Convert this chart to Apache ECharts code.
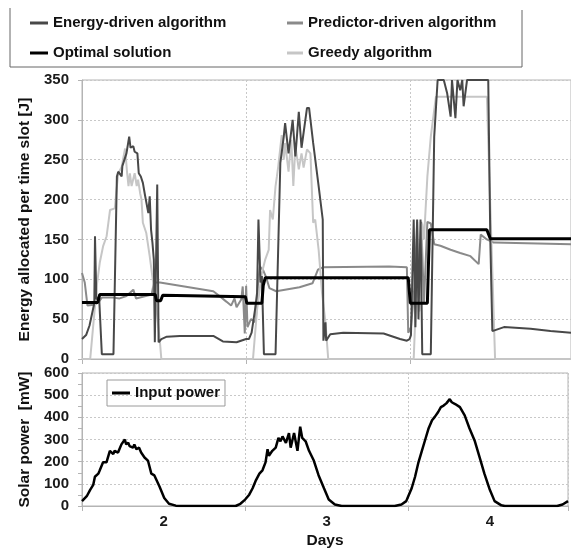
<!DOCTYPE html>
<html><head><meta charset="utf-8">
<script src="https://cdn.jsdelivr.net/npm/echarts@6/dist/echarts.min.js"></script>
<style>html,body{margin:0;padding:0;background:#fff}#c{width:571px;height:550px}</style>
</head><body><div id="c"></div>
<script>
// time in hours from the left edge of the plot (left edge = middle of day 1/2 boundary)
const dayTickLabels = { 12: '2', 36: '3', 60: '4' };
const energyDriven = [[0,25],[0.6,30],[1.1,42],[1.5,58],[1.8,70],[1.9,154],[2.1,75],[2.5,78],[2.9,6],[4.6,6],[5.1,229],[5.3,235],[5.5,237],[5.8,229],[5.9,242],[6.5,258],[6.9,279],[7.1,265],[7.5,267],[7.7,260],[8.1,258],[8.3,233],[8.6,229],[8.9,221],[9.2,206],[9.4,204],[9.7,183],[9.9,204],[10.1,162],[10.3,146],[10.5,125],[10.65,21],[10.9,21],[11.0,219],[11.2,21],[11.4,21],[11.6,25],[12.4,28],[14.3,29],[19.2,29],[20.6,22],[22.6,21],[24.0,25],[24.4,25],[24.8,33],[25.3,62],[25.6,83],[25.8,175],[26.1,96],[26.3,104],[26.6,6],[28.3,6],[29.0,246],[29.5,279],[29.7,296],[30.2,258],[30.8,300],[31.2,254],[31.7,310],[32.1,265],[32.9,315],[33.2,315],[33.8,271],[34.6,217],[35.2,175],[35.3,23],[35.6,46],[35.7,23],[36.3,31],[38.2,33],[44.1,32],[46.5,25],[47.5,23],[47.9,25],[48.1,30],[48.5,175],[48.75,40],[49.0,175],[49.2,50],[49.5,175],[49.75,6],[51.0,6],[51.5,279],[52.0,350],[52.9,350],[53.4,333],[53.9,304],[54.1,350],[54.6,302],[54.9,350],[55.3,337],[55.6,350],[55.8,317],[56.3,350],[59.4,350],[59.7,150],[60.0,35],[60.2,37],[61.7,40],[65.6,38],[68.5,35],[71.5,33]];
const predictorDriven = [[0,108],[0.4,96],[0.8,67],[1.75,68],[2.4,71],[2.9,77],[4.6,77],[5.5,76],[6.5,79],[7.5,87],[7.9,76],[8.9,78],[10.2,81],[10.5,96],[11.4,96],[14.3,92],[19.2,85],[20.1,79],[21.1,72],[21.8,67],[22.3,76],[22.6,65],[23.3,75],[23.5,91],[23.8,32],[24.0,92],[24.2,40],[24.7,50],[25.4,46],[25.7,91],[26.0,116],[26.45,112],[26.9,103],[27.4,89],[28.4,85],[31.8,90],[33.7,95],[34.5,112],[35.2,115],[44.9,116],[47.5,115],[47.7,33],[48.1,40],[48.6,90],[49.0,172],[49.3,60],[49.6,172],[50.0,70],[50.5,172],[51.0,170],[51.5,144],[52.4,142],[53.9,137],[55.3,133],[56.8,129],[58.0,119],[58.3,156],[59.2,150],[60.2,146],[71.5,144]];
const optimalSolution = [[0,71],[2.3,71],[2.6,81],[10.7,81],[10.9,73],[11.5,73],[11.8,80],[23.9,78],[24.1,70],[26.3,70],[26.5,92],[26.8,102],[47.7,102],[48.0,70],[50.5,70],[50.8,162],[59.2,162],[59.7,151],[71.5,151]];
const greedy = [[0,0],[1.2,0],[2.2,95],[2.6,121],[3.1,142],[3.6,154],[4.1,187],[4.8,189],[5.0,208],[5.3,233],[5.8,241],[6.3,264],[6.6,233],[6.8,217],[7.0,233],[7.25,217],[7.7,233],[8.0,217],[8.2,225],[8.5,208],[8.7,200],[8.9,171],[9.4,158],[9.9,129],[10.4,96],[10.9,62],[11.4,21],[11.6,0],[25.0,0],[25.6,62],[26.3,108],[26.8,125],[27.3,137],[27.5,187],[27.9,175],[28.3,217],[28.5,229],[28.7,242],[29.2,281],[29.5,250],[29.7,271],[30.2,235],[30.6,275],[30.9,217],[31.2,267],[31.7,238],[32.1,258],[32.4,240],[32.9,263],[33.4,258],[33.8,171],[34.1,175],[34.6,137],[35.1,83],[35.6,46],[36.0,0],[48.5,0],[49.0,110],[49.3,60],[49.75,170],[50.0,150],[50.5,229],[51.0,279],[51.75,329],[59.2,329],[60.4,0],[71.5,0]];
const inputPower = [[0,22],[0.7,44],[1.2,73],[1.65,95],[1.9,132],[2.4,146],[2.6,160],[3.1,197],[3.6,197],[4.1,249],[4.6,234],[4.8,249],[5.3,241],[5.5,256],[5.8,278],[6.0,285],[6.3,300],[6.5,278],[6.8,285],[7.0,270],[7.25,278],[7.5,263],[7.7,278],[8.0,256],[8.4,263],[8.7,241],[9.2,219],[9.7,205],[10.2,146],[10.65,138],[11.4,88],[12.1,36],[12.8,10],[13.8,1.5],[14.3,0],[22.6,0],[23.3,10],[24.0,29],[24.6,51],[25.1,80],[25.6,117],[26.1,146],[26.55,161],[27.0,197],[27.3,256],[27.5,227],[28.0,249],[28.5,263],[28.9,307],[29.2,292],[29.5,314],[30.0,285],[30.45,329],[30.7,263],[31.2,329],[31.7,249],[32.1,358],[32.4,307],[32.9,292],[33.4,249],[34.1,205],[34.8,139],[35.6,80],[36.3,29],[37.2,7],[38.2,0],[46.0,0],[47.0,7],[47.7,22],[48.0,44],[48.5,80],[49.0,132],[49.5,197],[50.0,249],[50.5,300],[51.0,351],[51.5,387],[51.9,402],[52.4,424],[52.8,446],[53.2,453],[53.6,463],[54.1,482],[54.4,468],[54.9,460],[55.6,446],[56.3,409],[57.0,351],[57.8,292],[58.5,219],[59.2,146],[60.0,73],[60.7,22],[61.7,3],[62.2,0],[69.9,0],[70.7,7],[71.5,22]];

const FONT = '"Liberation Sans", Arial, Helvetica, sans-serif';
const XMAX = 71.5;
const GRAY = '#b4b4b4';
const chart = echarts.init(document.getElementById('c'));
const splitDotted = { show: true, lineStyle: { color: '#c8c8c8', type: [2, 2], width: 1 } };
const baseX = (gi) => ({
  gridIndex: gi, type: 'value', position: 'bottom', min: 0, max: XMAX, interval: 24,
  axisLine: { show: true, lineStyle: { color: GRAY } },
  axisTick: { show: true, length: 5, lineStyle: { color: GRAY } },
  axisLabel: { show: false }, splitLine: splitDotted
});
const labelStyle = { fontFamily: FONT, fontSize: 15, fontWeight: 'bold', color: '#1a1a1a' };
const nameStyle = { fontFamily: FONT, fontSize: 15.5, fontWeight: 'bold', color: '#111' };
const legendText = { fontFamily: FONT, fontSize: 15, fontWeight: 'bold', color: '#111', lineHeight: 18 };

const mk = (name, data, color, width, xi, yi, z) => ({
  name, type: 'line', data, xAxisIndex: xi, yAxisIndex: yi, symbol: 'none', z,
  lineStyle: { color, width }, itemStyle: { color }, emphasis: { disabled: true }
});

chart.setOption({
  animation: false,
  backgroundColor: '#fff',
  textStyle: { fontFamily: FONT },
  graphic: [{ type: 'polyline', silent: true, shape: { points: [[10, 8], [10, 67], [522, 67], [522, 10]] },
    style: { stroke: '#666', fill: null, lineWidth: 1 } }],
  legend: [
    { orient: 'vertical', left: 30, top: 14, padding: 0, itemWidth: 18, itemHeight: 3, itemGap: 12, icon: 'rect',
      selectedMode: false, textStyle: legendText, data: ['Energy-driven algorithm', 'Optimal solution'] },
    { orient: 'vertical', left: 287, top: 14, padding: 0, itemWidth: 16, itemHeight: 3, itemGap: 12, icon: 'rect',
      selectedMode: false, textStyle: legendText, data: ['Predictor-driven algorithm', 'Greedy algorithm'] },
    { left: 107, top: 380, padding: [4, 5], borderColor: '#9a9a9a', borderWidth: 1, itemWidth: 18, itemHeight: 3,
      icon: 'rect', selectedMode: false, textStyle: legendText, data: ['Input power'] }
  ],
  grid: [
    { left: 82, top: 80, width: 490, height: 279, show: true, borderColor: GRAY, borderWidth: 1 },
    { left: 82, top: 373, width: 490, height: 137, show: true, borderColor: GRAY, borderWidth: 1 }
  ],
  xAxis: [
    baseX(0),
    baseX(1),
    { gridIndex: 1, type: 'value', position: 'bottom', offset: 0, min: 0, max: XMAX, interval: 12,
      axisLine: { show: false }, axisTick: { show: false }, splitLine: { show: false },
      axisLabel: Object.assign({ margin: 8, formatter: (v) => dayTickLabels[v] || '' }, labelStyle),
      name: 'Days', nameLocation: 'middle', nameGap: 27, nameTextStyle: nameStyle }
  ],
  yAxis: [
    { gridIndex: 0, type: 'value', min: 0, max: 350, interval: 50,
      axisLine: { show: true, lineStyle: { color: GRAY } },
      axisTick: { show: true, length: 4, lineStyle: { color: GRAY } },
      axisLabel: Object.assign({ margin: 13 }, labelStyle), splitLine: splitDotted,
      name: 'Energy allocated per time slot [J]', nameLocation: 'middle', nameGap: 48, nameTextStyle: nameStyle },
    { gridIndex: 1, type: 'value', min: 0, max: 600, interval: 100,
      axisLine: { show: true, lineStyle: { color: GRAY } },
      axisTick: { show: true, length: 4, lineStyle: { color: GRAY } },
      minorTick: { show: true, splitNumber: 2, length: 4, lineStyle: { color: GRAY } },
      axisLabel: Object.assign({ margin: 13 }, labelStyle), splitLine: splitDotted,
      name: 'Solar power  [mW]', nameLocation: 'middle', nameGap: 48, nameTextStyle: nameStyle }
  ],
  series: [
    mk('Predictor-driven algorithm', predictorDriven, '#8a8a8a', 2, 0, 0, 2),
    mk('Greedy algorithm', greedy, '#c6c6c6', 2, 0, 0, 3),
    mk('Energy-driven algorithm', energyDriven, '#484848', 2, 0, 0, 4),
    mk('Optimal solution', optimalSolution, '#000000', 3, 0, 0, 5),
    mk('Input power', inputPower, '#000000', 2.5, 1, 1, 5)
  ]
});
</script></body></html>
